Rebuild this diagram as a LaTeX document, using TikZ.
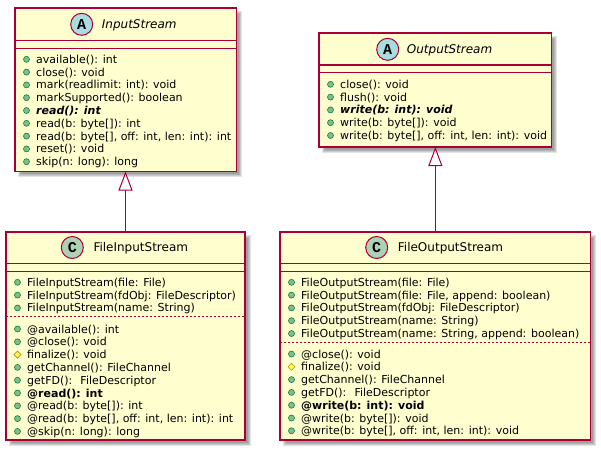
\documentclass[tikz,border=0pt]{standalone}
\usepackage{fontspec}
\setmainfont{DejaVu Sans}
\newfontfamily\spotfont{Liberation Mono}
\usetikzlibrary{arrows.meta}

\definecolor{classbg}{HTML}{FEFECE}
\definecolor{classline}{HTML}{A80036}
\definecolor{spotA}{HTML}{A9DCDF}
\definecolor{spotC}{HTML}{ADD1B2}
\definecolor{pubfill}{HTML}{84BE84}
\definecolor{publine}{HTML}{038048}
\definecolor{protfill}{HTML}{FFFF44}
\definecolor{protline}{HTML}{B38D22}

\tikzset{
  classbox/.style={draw=classline, fill=classbg, line width=1.3pt, rectangle,
    inner sep=0pt, outer sep=0pt, anchor=north west},
  sepline/.style={draw=classline, line width=1.1pt},
  dsepline/.style={draw=classline, line width=0.7pt, dash pattern=on 2pt off 2pt},
  member/.style={inner sep=0pt, anchor=base west, font=\fontsize{11}{13}\selectfont, text=black},
  cname/.style={inner sep=0pt, anchor=base west, font=\fontsize{12}{14}\selectfont, text=black},
  spot/.style={circle, draw=classline, line width=1pt, minimum size=22pt, inner sep=0pt,
    font=\spotfont\bfseries\fontsize{15}{15}\selectfont},
  pubicon/.style={fill=pubfill, draw=publine, line width=0.6pt},
  proticon/.style={fill=protfill, draw=protline, line width=0.6pt},
  inherit/.style={draw=classline, line width=1pt,
    -{Triangle[width=14pt, length=19pt, fill=white]}},
}

% soft drop shadow behind a class box: lower-left x,y and upper-right x,y
\newcommand\boxshadow[4]{%
  \foreach \e in {-1.5,-0.5,0.5,1.5}{%
    \fill[black, opacity=0.11] (#1+4-\e,#2+4-\e) rectangle (#3+4+\e,#4+4+\e);
  }%
}

% one compartment of members: name prefix, box left x, first row y, list of kind/text
\newcommand\memberlist[4]{%
  \foreach \mkind/\mtext [count=\i from 0] in {#4}{%
    \pgfmathsetmacro\yy{#3+12.8*\i}
    \if\mkind p
      \draw[pubicon] (#2+11.5,\yy) circle (3pt);
    \else
      \draw[proticon] (#2+8,\yy) -- (#2+11.5,\yy-3.5) -- (#2+15,\yy) -- (#2+11.5,\yy+3.5) -- cycle;
    \fi
    \node[member] (#1-\i) at (#2+21,\yy+4) {\mtext};
  }%
}

\begin{document}
\begin{tikzpicture}[x=1pt, y=-1pt]
\useasboundingbox (0,0) rectangle (601,451);

% shadows
\boxshadow{15}{8}{236.5}{171.5}
\boxshadow{319}{33}{551.5}{147}
\boxshadow{6}{232}{245}{440}
\boxshadow{280}{232}{590.7}{440}

% class boxes
\node[classbox, minimum width=221.5pt, minimum height=163.5pt] (is) at (15,8) {};
\node[classbox, minimum width=232.5pt, minimum height=114pt] (os) at (319,33) {};
\node[classbox, minimum width=239pt, minimum height=208pt] (fis) at (6,232) {};
\node[classbox, minimum width=310.7pt, minimum height=208pt] (fos) at (280,232) {};

% compartment separators
\draw[sepline] (15,40.5) -- (236.5,40.5);
\draw[sepline] (15,48.3) -- (236.5,48.3);
\draw[sepline] (319,65) -- (551.5,65);
\draw[sepline] (319,72.7) -- (551.5,72.7);
\draw[sepline] (6,263.3) -- (245,263.3);
\draw[sepline] (6,271.7) -- (245,271.7);
\draw[sepline] (280,263.3) -- (590.7,263.3);
\draw[sepline] (280,271.7) -- (590.7,271.7);
\draw[dsepline] (6,316) -- (245,316);
\draw[dsepline] (280,342.7) -- (590.7,342.7);

% headers
\node[spot, fill=spotA] (isspot) at (81.7,24.3) {A};
\node[cname, font=\fontsize{12}{14}\selectfont\itshape] (isname) at (101.7,28.6) {InputStream};
\node[spot, fill=spotA] (osspot) at (387.7,49.3) {A};
\node[cname, font=\fontsize{12}{14}\selectfont\itshape] (osname) at (406.7,53.6) {OutputStream};
\node[spot, fill=spotC] (fisspot) at (72.3,247.5) {C};
\node[cname] (fisname) at (93.3,251.8) {FileInputStream};
\node[spot, fill=spotC] (fosspot) at (376.7,247.5) {C};
\node[cname] (fosname) at (397.7,251.8) {FileOutputStream};

% members
\memberlist{ism}{15}{59.3}{%
  p/{available(): int},
  p/{close(): void},
  p/{mark(readlimit: int): void},
  p/{markSupported(): boolean},
  p/{\bfseries\itshape read(): int},
  p/{read(b: byte[]): int},
  p/{read(b: byte[], off: int, len: int): int},
  p/{reset(): void},
  p/{skip(n: long): long}}

\memberlist{osm}{319}{84.3}{%
  p/{close(): void},
  p/{flush(): void},
  p/{\bfseries\itshape write(b: int): void},
  p/{write(b: byte[]): void},
  p/{write(b: byte[], off: int, len: int): void}}

\memberlist{fisc}{6}{282.3}{%
  p/{FileInputStream(file: File)},
  p/{FileInputStream(fdObj: FileDescriptor)},
  p/{FileInputStream(name: String)}}

\memberlist{fism}{6}{329}{%
  p/{@available(): int},
  p/{@close(): void},
  r/{finalize(): void},
  p/{getChannel(): FileChannel},
  p/{getFD():~ FileDescriptor},
  p/{\bfseries @read(): int},
  p/{@read(b: byte[]): int},
  p/{@read(b: byte[], off: int, len: int): int},
  p/{@skip(n: long): long}}

\memberlist{fosc}{280}{282.3}{%
  p/{FileOutputStream(file: File)},
  p/{FileOutputStream(file: File, append: boolean)},
  p/{FileOutputStream(fdObj: FileDescriptor)},
  p/{FileOutputStream(name: String)},
  p/{FileOutputStream(name: String, append: boolean)}}

\memberlist{fosm}{280}{354}{%
  p/{@close(): void},
  r/{finalize(): void},
  p/{getChannel(): FileChannel},
  p/{getFD():~ FileDescriptor},
  p/{\bfseries @write(b: int): void},
  p/{@write(b: byte[]): void},
  p/{@write(b: byte[], off: int, len: int): void}}

% generalisation arrows
\draw[inherit] (fis.north) -- (fis.north |- is.south);
\draw[inherit] (fos.north) -- (fos.north |- os.south);
\end{tikzpicture}
\end{document}
